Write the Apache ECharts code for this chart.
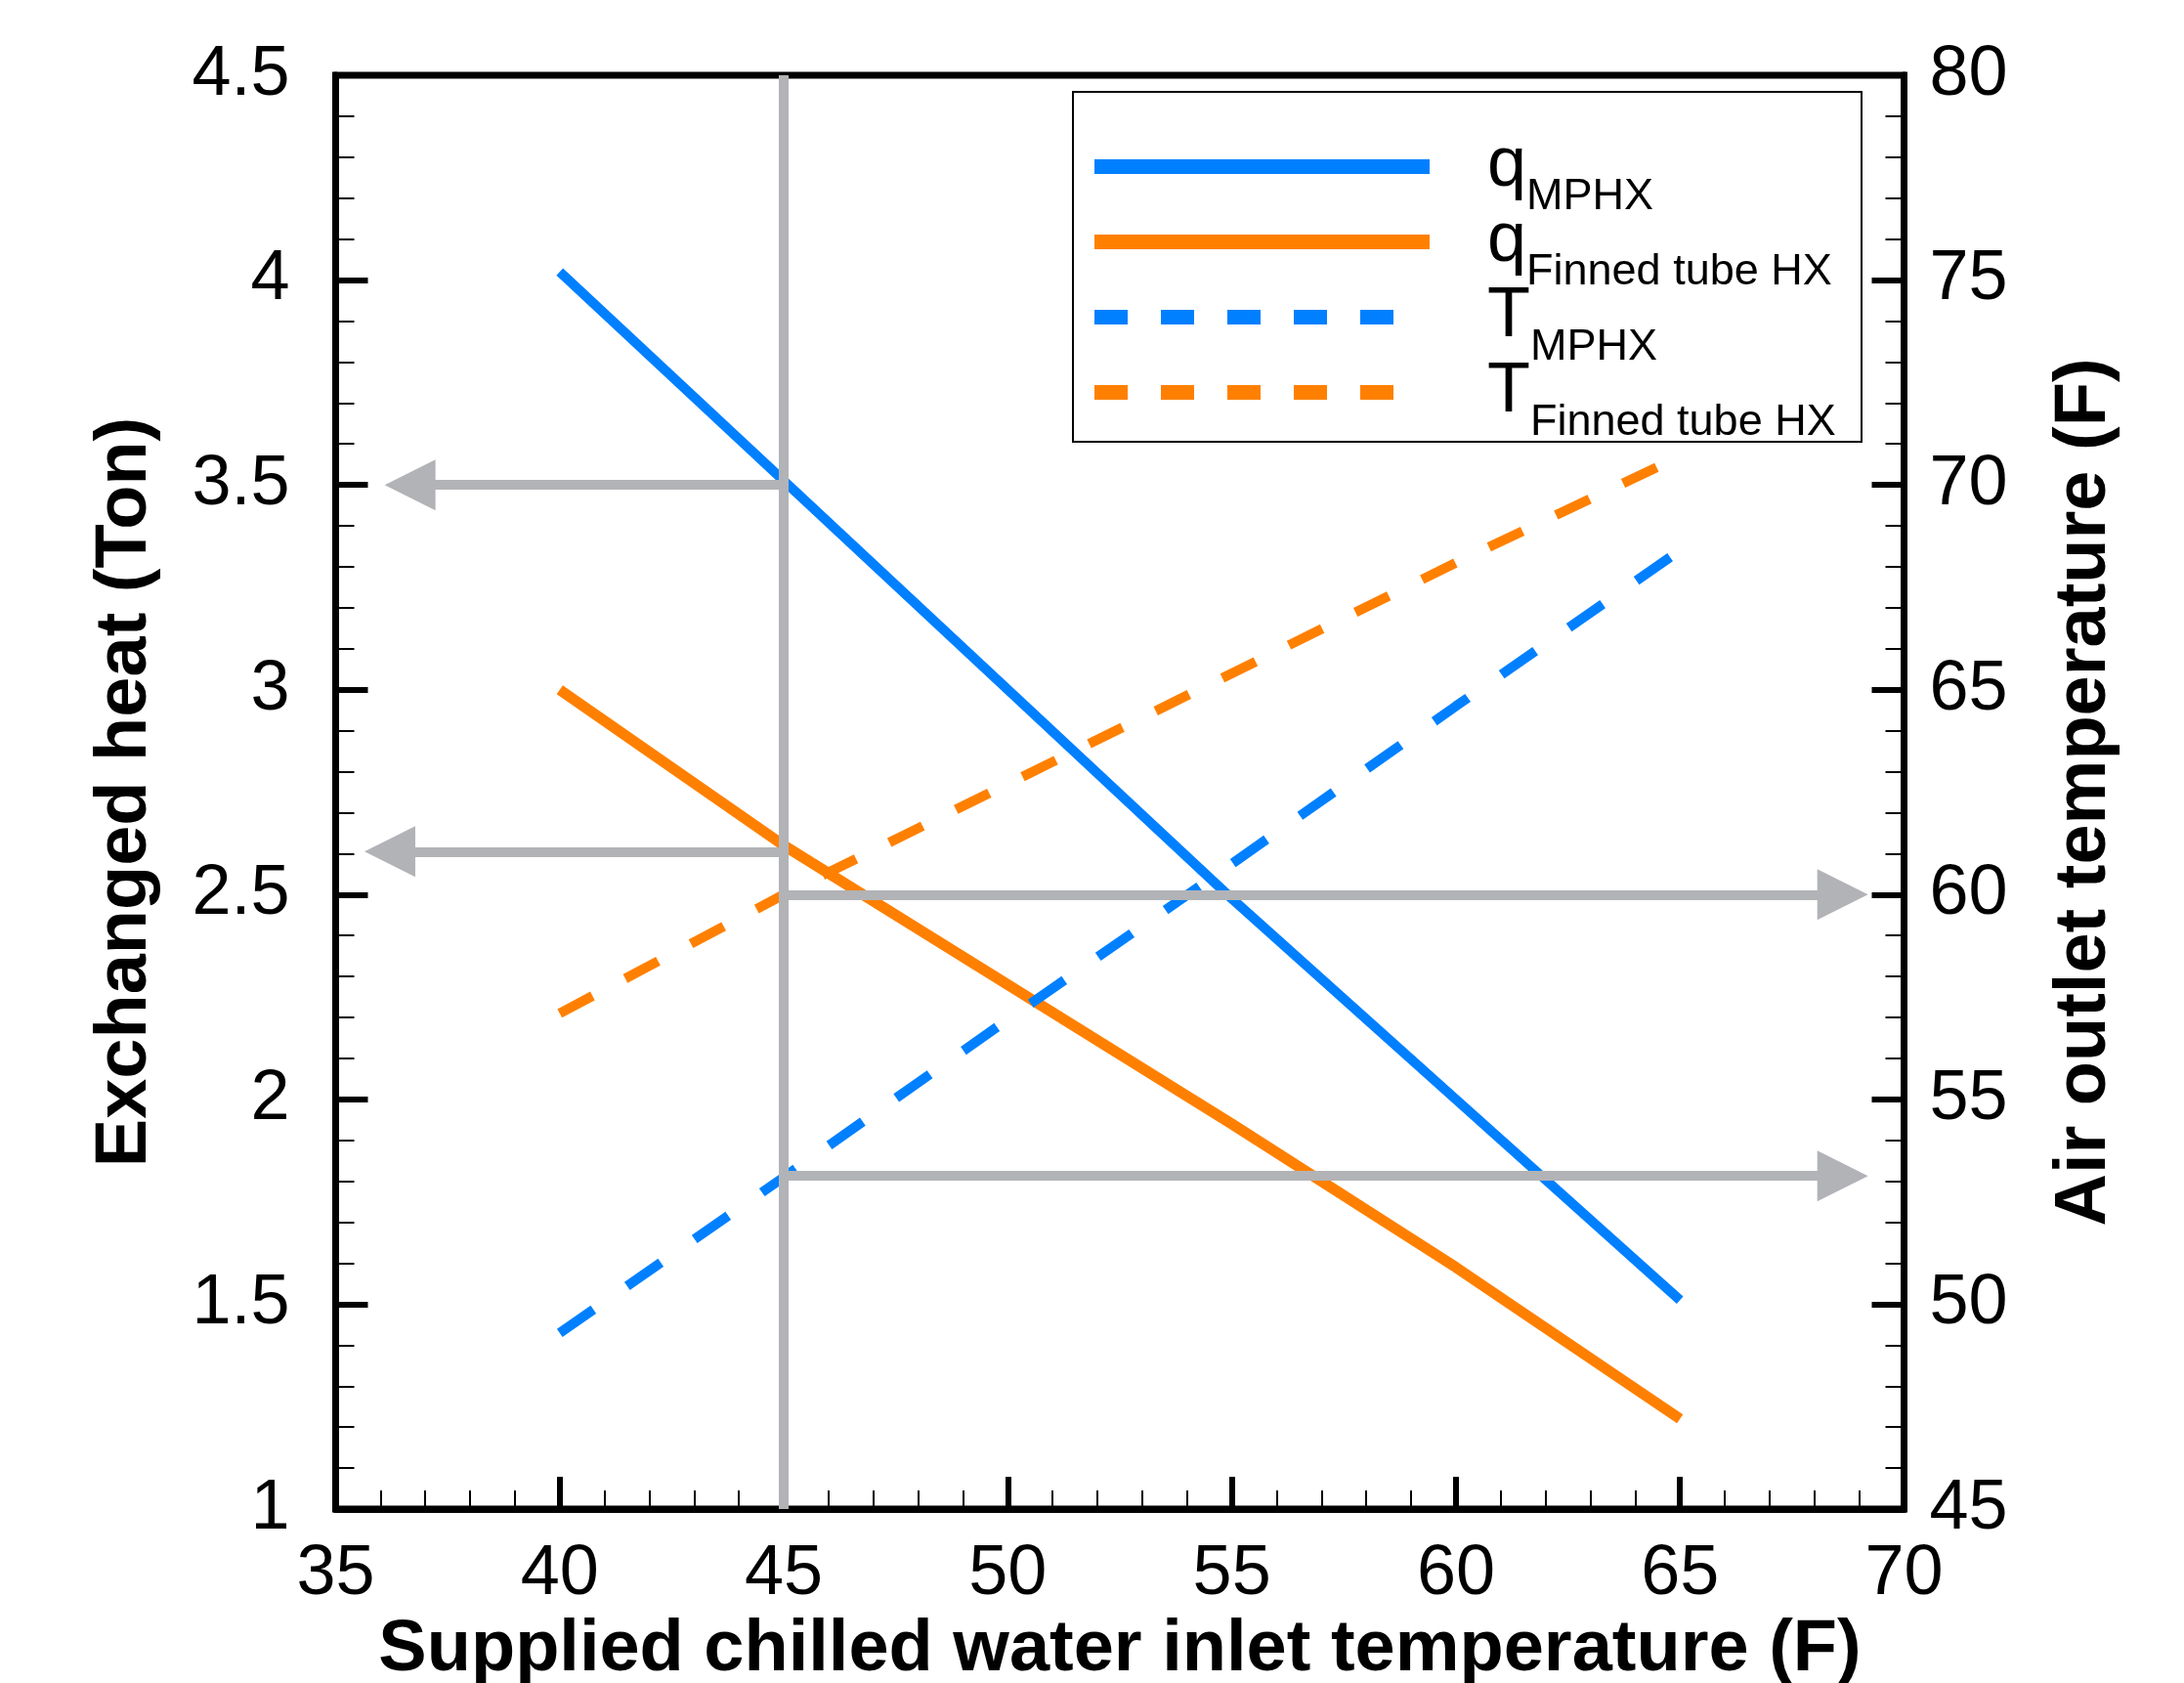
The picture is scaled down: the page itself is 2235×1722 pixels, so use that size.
<!DOCTYPE html>
<html>
<head>
<meta charset="utf-8">
<script src="https://cdn.jsdelivr.net/npm/echarts@6/dist/echarts.min.js"></script>
<style>
html,body{margin:0;padding:0;background:#fff;}
#chart{width:2235px;height:1722px;}
</style>
</head>
<body>
<div id="chart"></div>
<script>
// ---- data ----
const xValues = [40, 45, 50, 55, 60, 65];
const qMPHX = [4.02, 3.51, 3.00, 2.49, 2.00, 1.51];
const qFinned = [3.00, 2.62, 2.28, 1.94, 1.59, 1.22];
const TMPHX = [49.3, 53.1, 56.95, 60.75, 64.6, 68.4];
const TFinned = [57.1, 60.0, 62.7, 65.4, 68.1, 70.7];

const seriesNames = ['qMPHX', 'qFinned', 'TMPHX', 'TFinned'];
const legendMain = ['q', 'q', 'T', 'T'];
const legendSub = ['MPHX', 'Finned tube HX', 'MPHX', 'Finned tube HX'];

// annotation guide values
const guideX = 45;
const leftArrowY = [3.5, 2.605];
const leftArrowEnd = [36.66, 36.21];
const rightArrowY = [60, 53.13];
const rightArrowEnd = [68.63, 68.63];

const xTitle = 'Supplied chilled water inlet temperature (F)';
const yLeftTitle = 'Exchanged heat (Ton)';
const yRightTitle = 'Air outlet temperature (F)';

const BLUE = '#0080ff';
const ORANGE = '#ff8000';
const GRAY = '#b2b3b6';
const FONT = '"Liberation Sans", Arial, sans-serif';

// legend icons (solid bar / five dashes; trailing zero-area segment keeps the icon width)
const ICON_SOLID = 'rect';
const ICON_DASHED = 'path://M0 0h34v15h-34zM68 0h34v15h-34zM136 0h34v15h-34zM204 0h34v15h-34zM272 0h34v15h-34zM343 0L343 15';

function pairs(xs, ys) { return xs.map((x, i) => [x, ys[i]]); }

const axisCommon = {
  axisLine: { show: true, lineStyle: { color: '#000', width: 7 } },
  axisTick: { show: true, inside: true, length: 33, lineStyle: { color: '#000', width: 6 } },
  minorTick: { show: true, splitNumber: 5, length: 19, lineStyle: { color: '#000', width: 2 } },
  splitLine: { show: false },
  minorSplitLine: { show: false },
  nameTextStyle: { fontFamily: FONT, fontWeight: 'bold', fontSize: 74, color: '#000', lineHeight: 74 },
  nameLocation: 'middle'
};

const chart = echarts.init(document.getElementById('chart'), null, { renderer: 'canvas' });

const richMap = {
  m: { fontFamily: FONT, fontSize: 72, color: '#000', lineHeight: 72, verticalAlign: 'middle', padding: [0, 0, 0, 54] },
  s: { fontFamily: FONT, fontSize: 45, color: '#000', lineHeight: 44, verticalAlign: 'middle', padding: [62, 0, 0, 0] }
};

const option = {
  animation: false,
  backgroundColor: '#fff',
  grid: {
    left: 343.5, right: 286.5, top: 77, bottom: 178,
    outerBoundsMode: 'none', containLabel: false,
    show: true, borderColor: '#000', borderWidth: 7, backgroundColor: 'transparent'
  },
  xAxis: Object.assign({}, axisCommon, {
    type: 'value', min: 35, max: 70, interval: 5, position: 'bottom',
    name: xTitle, nameGap: 104,
    axisLabel: { fontFamily: FONT, fontSize: 72, color: '#000', margin: 31, lineHeight: 72 }
  }),
  yAxis: [
    Object.assign({}, axisCommon, {
      type: 'value', min: 1, max: 4.5, interval: 0.5, position: 'left',
      name: yLeftTitle, nameGap: 178, nameRotate: 90,
      axisLabel: { fontFamily: FONT, fontSize: 72, color: '#000', margin: 47 }
    }),
    Object.assign({}, axisCommon, {
      type: 'value', min: 45, max: 80, interval: 5, position: 'right',
      name: yRightTitle, nameGap: 148, nameRotate: 90,
      axisLabel: { fontFamily: FONT, fontSize: 72, color: '#000', margin: 26 }
    })
  ],
  legend: {
    orient: 'vertical', left: 1120, top: 117, padding: 0,
    itemWidth: 343, itemHeight: 15, itemGap: -30,
    selectedMode: false,
    symbolKeepAspect: false,
    itemStyle: { borderWidth: 0 },
    data: [
      { name: seriesNames[0], icon: ICON_SOLID },
      { name: seriesNames[1], icon: ICON_SOLID },
      { name: seriesNames[2], icon: ICON_DASHED },
      { name: seriesNames[3], icon: ICON_DASHED }
    ],
    formatter: function (name) {
      const i = seriesNames.indexOf(name);
      return '{m|' + legendMain[i] + '}{s|' + legendSub[i] + '}';
    },
    textStyle: { fontFamily: FONT, color: '#000', rich: richMap }
  },
  graphic: [{
    type: 'rect', shape: { x: 1098, y: 94, width: 807, height: 358 },
    style: { fill: 'none', stroke: '#000', lineWidth: 2 }, z: 10, silent: true
  }],
  series: [
    {
      name: seriesNames[0], type: 'line', yAxisIndex: 0, data: pairs(xValues, qMPHX),
      symbol: 'none', lineStyle: { color: BLUE, width: 10 }, itemStyle: { color: BLUE }, silent: true, z: 3
    },
    {
      name: seriesNames[1], type: 'line', yAxisIndex: 0, data: pairs(xValues, qFinned),
      symbol: 'none', lineStyle: { color: ORANGE, width: 11 }, itemStyle: { color: ORANGE }, silent: true, z: 3
    },
    {
      name: seriesNames[2], type: 'line', yAxisIndex: 1, data: pairs(xValues, TMPHX),
      symbol: 'none', lineStyle: { color: BLUE, width: 10, type: [42, 42] }, itemStyle: { color: BLUE }, silent: true, z: 3
    },
    {
      name: seriesNames[3], type: 'line', yAxisIndex: 1, data: pairs(xValues, TFinned),
      symbol: 'none', lineStyle: { color: ORANGE, width: 10, type: [38, 38] }, itemStyle: { color: ORANGE }, silent: true, z: 3
    },
    {
      name: 'guideVertical', type: 'line', yAxisIndex: 0, data: [], silent: true, z: 5,
      markLine: {
        silent: true, animation: false,
        symbol: ['none', 'none'],
        label: { show: false },
        lineStyle: { color: GRAY, width: 10, type: 'solid' },
        emphasis: { disabled: true },
        data: [{ xAxis: guideX }]
      }
    },
    {
      name: 'guideLeft', type: 'line', yAxisIndex: 0, data: [], silent: true, z: 5,
      markLine: {
        silent: true, animation: false,
        symbol: ['none', 'triangle'], symbolSize: [52, 52],
        label: { show: false },
        lineStyle: { color: GRAY, width: 10, type: 'solid' },
        emphasis: { disabled: true },
        data: leftArrowY.map((y, i) => [{ coord: [guideX, y] }, { coord: [leftArrowEnd[i], y] }])
      }
    },
    {
      name: 'guideRight', type: 'line', yAxisIndex: 1, data: [], silent: true, z: 5,
      markLine: {
        silent: true, animation: false,
        symbol: ['none', 'triangle'], symbolSize: [52, 52],
        label: { show: false },
        lineStyle: { color: GRAY, width: 10, type: 'solid' },
        emphasis: { disabled: true },
        data: rightArrowY.map((y, i) => [{ coord: [guideX, y] }, { coord: [rightArrowEnd[i], y] }])
      }
    }
  ]
};
chart.setOption(option);
</script>
</body>
</html>
